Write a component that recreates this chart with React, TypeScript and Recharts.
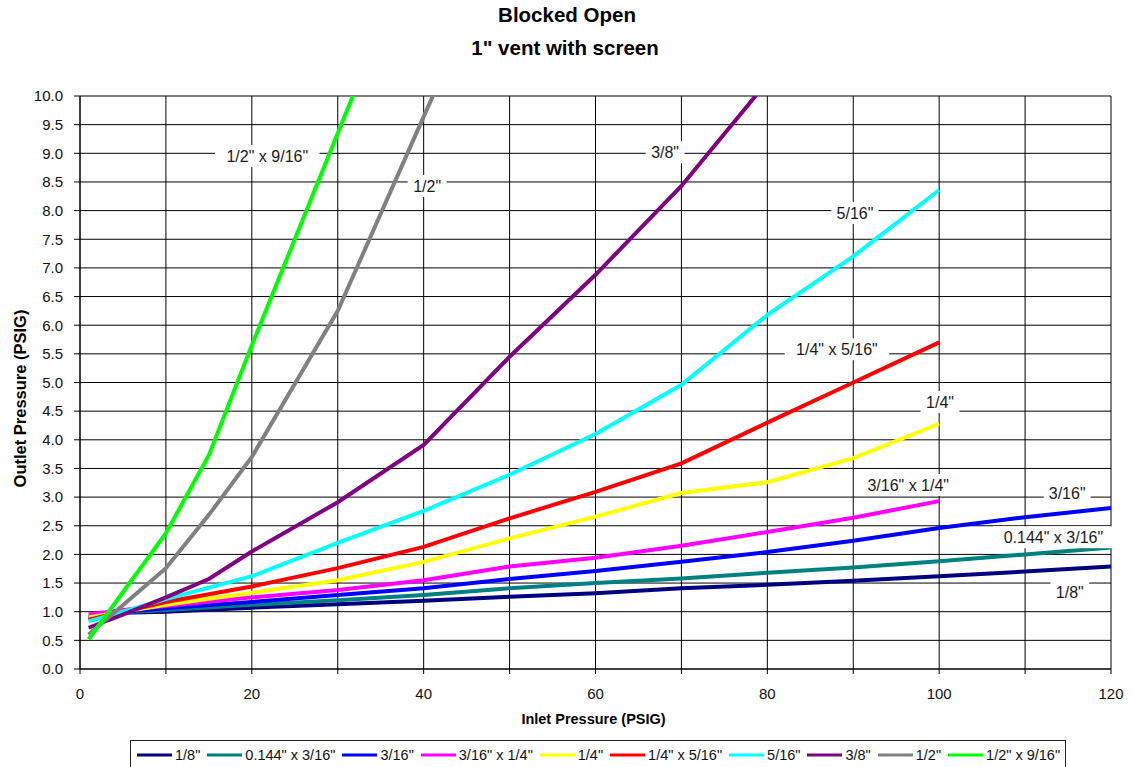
import React from 'react';
import { LineChart, Line, XAxis, YAxis, CartesianGrid, Legend, ReferenceDot } from 'recharts';

// Inlet pressure (PSIG) sample points shared by all series
const inlet = [1, 5, 10, 15, 20, 30, 40, 50, 60, 70, 80, 90, 100, 110, 120];

// Outlet pressure (PSIG) per orifice size; null = no reading
const s1_8 = [0.9, 0.98, 1.0, null, 1.07, 1.13, 1.19, 1.26, 1.32, 1.41, 1.47, 1.54, 1.62, 1.7, 1.79];
const s0144x3_16 = [0.9, 0.99, 1.03, null, 1.12, 1.2, 1.29, 1.41, 1.5, 1.58, 1.68, 1.77, 1.88, 2.0, 2.12];
const s3_16 = [0.9, 1.0, 1.06, null, 1.17, 1.29, 1.41, 1.57, 1.71, 1.87, 2.04, 2.24, 2.46, 2.65, 2.81];
const s3_16x1_4 = [0.95, 1.03, 1.1, null, 1.25, 1.38, 1.55, 1.79, 1.94, 2.15, 2.39, 2.64, 2.93, null, null];
const s1_4 = [0.9, 1.0, 1.12, null, 1.33, 1.55, 1.87, 2.28, 2.66, 3.07, 3.26, 3.68, 4.28, null, null];
const s1_4x5_16 = [0.86, 1.0, 1.17, null, 1.44, 1.76, 2.13, 2.63, 3.09, 3.59, 4.3, 5.0, 5.7, null, null];
const s5_16 = [0.83, 1.0, 1.22, null, 1.62, 2.2, 2.76, 3.39, 4.1, 4.96, 6.18, 7.2, 8.36, null, null];
const s3_8 = [0.72, 0.95, 1.25, 1.57, 2.05, 2.91, 3.91, 5.45, 6.88, 8.43, 10.25, null, null, null, null];
const s1_2 = [0.6, null, 1.76, 2.69, 3.7, 6.25, 9.64, 13.0, null, null, null, null, null, null, null];
const s1_2x9_16 = [0.52, null, 2.37, 3.73, 5.65, 9.35, 13.05, null, null, null, null, null, null, null, null];

const seriesNames = ['1/8"', '0.144" x 3/16"', '3/16"', '3/16" x 1/4"', '1/4"', '1/4" x 5/16"', '5/16"', '3/8"', '1/2"', '1/2" x 9/16"'];
const seriesValues = [s1_8, s0144x3_16, s3_16, s3_16x1_4, s1_4, s1_4x5_16, s5_16, s3_8, s1_2, s1_2x9_16];
const seriesColors = ['#000080', '#008080', '#0000FF', '#FF00FF', '#FFFF00', '#FF0000', '#00FFFF', '#800080', '#808080', '#00FF00'];

// In-plot series labels (data coordinates of label centres)
const labelText = ['1/2" x 9/16"', '1/2"', '3/8"', '5/16"', '1/4" x 5/16"', '1/4"', '3/16" x 1/4"', '3/16"', '0.144" x 3/16"', '1/8"'];
const labelX = [21.8, 40.4, 68.1, 90.2, 88.1, 100.1, 96.4, 114.9, 113.3, 115.2];
const labelY = [8.95, 8.43, 9.02, 7.96, 5.58, 4.66, 3.21, 3.07, 2.3, 1.34];

const xTicks = [0, 10, 20, 30, 40, 50, 60, 70, 80, 90, 100, 110, 120];
const yTicks = [0, 0.5, 1, 1.5, 2, 2.5, 3, 3.5, 4, 4.5, 5, 5.5, 6, 6.5, 7, 7.5, 8, 8.5, 9, 9.5, 10];

const titleLines = ['Blocked Open', '1" vent with screen'];
const xTitle = 'Inlet Pressure  (PSIG)';
const yTitle = 'Outlet Pressure  (PSIG)';

const FONT = '"Liberation Sans", Arial, sans-serif';

const data = inlet.map((x, i) => {
  const row: any = { x };
  seriesValues.forEach((arr, k) => {
    row['s' + k] = arr[i];
  });
  return row;
});

const makeLabelShape = (text: string) => (props: any) => {
  const { cx, cy } = props;
  const w = text.length * 8.2 + 6;
  return (
    <g>
      <rect x={cx - w / 2} y={cy - 11} width={w} height={22} fill="#fff" />
      <text x={cx} y={cy + 6} textAnchor="middle" fontSize={16} fill="#1a1a1a" fontFamily={FONT}>
        {text}
      </text>
    </g>
  );
};

const LegendBox = () => (
  <div
    style={{
      border: '1.5px solid #222',
      background: '#fff',
      display: 'flex',
      alignItems: 'center',
      width: 936,
      height: 30,
      padding: '0 0 0 6px',
      boxSizing: 'border-box',
      fontFamily: FONT,
      fontSize: 14.5,
      color: '#111',
      whiteSpace: 'nowrap',
    }}
  >
    {seriesNames.map((name, k) => (
      <div key={name} style={{ display: 'flex', alignItems: 'center', marginRight: 7 }}>
        <svg width={35} height={6} style={{ marginRight: 3 }}>
          <line x1={0} y1={3} x2={35} y2={3} stroke={seriesColors[k]} strokeWidth={3} />
        </svg>
        <span>{name}</span>
      </div>
    ))}
  </div>
);

export default function App() {
  return (
    <div style={{ position: 'absolute', left: 0, top: 0, width: 1140, height: 767, background: '#fff', fontFamily: FONT }}>
      <div style={{ position: 'absolute', left: 0, top: -2, width: 1140, textAlign: 'center', fontWeight: 'bold', fontSize: 20.5, lineHeight: '33px', color: '#000' }}>
        <div style={{ marginLeft: -6 }}>{titleLines[0]}</div>
        <div style={{ marginLeft: -10 }}>{titleLines[1]}</div>
      </div>
      <LineChart
        width={1140}
        height={767}
        data={data}
        margin={{ top: 96, right: 29, left: 0, bottom: 38 }}
        style={{ position: 'absolute', left: 0, top: 0 }}
      >
        <CartesianGrid stroke="#000" strokeWidth={1} />
        <XAxis
          dataKey="x"
          type="number"
          domain={[0, 120]}
          ticks={xTicks}
          interval={0}
          height={60}
          tickSize={5}
          tickMargin={14}
          stroke="#000"
          tick={{ fill: '#111', fontSize: 15, fontFamily: FONT }}
          tickFormatter={(v: number) => (v % 20 === 0 ? String(v) : '')}
          label={{
            content: (p: any) => {
              const vb = p.viewBox || {};
              return (
                <text x={vb.x + vb.width / 2 - 2} y={vb.y + 55} textAnchor="middle" fontWeight="bold" fontSize={14.5} fill="#000" fontFamily={FONT}>
                  {xTitle}
                </text>
              );
            },
          }}
        />
        <YAxis
          type="number"
          domain={[0, 10]}
          ticks={yTicks}
          interval={0}
          allowDataOverflow
          width={80}
          tickSize={6}
          tickMargin={11}
          stroke="#000"
          tick={{ fill: '#111', fontSize: 15, fontFamily: FONT }}
          tickFormatter={(v: number) => v.toFixed(1)}
          label={{
            content: (p: any) => {
              const vb = p.viewBox || {};
              const cx = vb.x + 26;
              const cy = vb.y + vb.height / 2 + 16;
              return (
                <text x={cx} y={cy} transform={`rotate(-90 ${cx} ${cy})`} textAnchor="middle" fontWeight="bold" fontSize={16.5} fill="#000" fontFamily={FONT}>
                  {yTitle}
                </text>
              );
            },
          }}
        />
        {seriesNames.map((name, k) => (
          <Line
            key={name}
            name={name}
            dataKey={'s' + k}
            type="linear"
            stroke={seriesColors[k]}
            strokeWidth={4}
            dot={false}
            activeDot={false}
            connectNulls
            isAnimationActive={false}
          />
        ))}
        {labelText.map((t, i) => (
          <ReferenceDot key={t} x={labelX[i]} y={labelY[i]} r={0} shape={makeLabelShape(t)} />
        ))}
        <Legend
          layout="horizontal"
          verticalAlign="middle"
          align="center"
          content={() => <LegendBox />}
          wrapperStyle={{ position: 'absolute', left: 130, top: 740, width: 'auto', height: 'auto', bottom: 'auto', right: 'auto' }}
        />
      </LineChart>
    </div>
  );
}
